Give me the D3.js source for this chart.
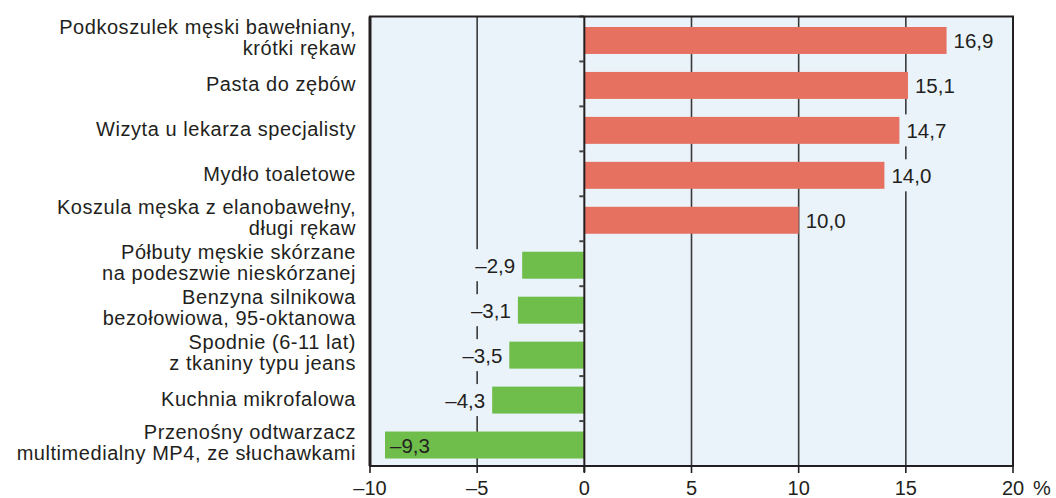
<!DOCTYPE html>
<html>
<head>
<meta charset="utf-8">
<script src="https://cdn.jsdelivr.net/npm/d3@7"></script>
<style>
  body { margin: 0; background: #fff; }
  text { font-family: "Liberation Sans", Arial, Helvetica, sans-serif; fill: #231f20; }
</style>
</head>
<body>
<svg id="chart" width="1056" height="498"></svg>
<script>
// category labels (line breaks as in the picture)
var categories = [
  "Podkoszulek męski bawełniany,\nkrótki rękaw",
  "Pasta do zębów",
  "Wizyta u lekarza specjalisty",
  "Mydło toaletowe",
  "Koszula męska z elanobawełny,\ndługi rękaw",
  "Półbuty męskie skórzane\nna podeszwie nieskórzanej",
  "Benzyna silnikowa\nbezołowiowa, 95-oktanowa",
  "Spodnie (6-11 lat)\nz tkaniny typu jeans",
  "Kuchnia mikrofalowa",
  "Przenośny odtwarzacz\nmultimedialny MP4, ze słuchawkami"
];
var values = [16.9, 15.1, 14.7, 14.0, 10.0, -2.9, -3.1, -3.5, -4.3, -9.3];
var xTicks = [-10, -5, 0, 5, 10, 15, 20];
var gridTicks = [-5, 5, 10, 15];

var bg = "#eaf3fa", red = "#e77161", green = "#6fbd4b", ink = "#231f20";

var svg = d3.select("#chart");
var plot = {left: 370, right: 1013, top: 16.5, bottom: 466};

var x = d3.scaleLinear().domain([-10, 20]).range([plot.left, plot.right]);
var y = d3.scaleBand().domain(d3.range(values.length))
  .range([plot.top + 1.5, plot.bottom + 1.5]).paddingInner(0.4).paddingOuter(0.2);
var rows = d3.scaleBand().domain(d3.range(values.length)).range([plot.top, plot.bottom]);

function fmt(v) {
  return (v < 0 ? "\u2013" : "") + d3.format(".1f")(Math.abs(v)).replace(".", ",");
}

// background
svg.append("rect").attr("x", plot.left).attr("y", plot.top)
  .attr("width", plot.right - plot.left).attr("height", plot.bottom - plot.top)
  .attr("fill", bg);

// vertical grid lines
svg.selectAll(".grid").data(gridTicks).enter().append("line")
  .attr("x1", d => x(d)).attr("x2", d => x(d))
  .attr("y1", plot.top).attr("y2", plot.bottom)
  .attr("stroke", "#3a3a3a").attr("stroke-width", 1.6);

// bars
svg.selectAll(".bar").data(values).enter().append("rect")
  .attr("x", d => x(Math.min(0, d)))
  .attr("y", (d, i) => y(i))
  .attr("width", d => Math.abs(x(d) - x(0)))
  .attr("height", y.bandwidth())
  .attr("fill", d => d >= 0 ? red : green);

// value labels, with a background patch hiding the grid lines
var labels = svg.selectAll(".val").data(values).enter().append("g");
labels.each(function(d, i) {
  var g = d3.select(this);
  var cy = y(i) + y.bandwidth() / 2;
  var inside = d < 0 && x(d) - 50 < plot.left;
  var tx, anchor;
  if (d >= 0) { tx = x(d) + 7; anchor = "start"; }
  else if (inside) { tx = x(d) + 5; anchor = "start"; }
  else { tx = x(d) - 7; anchor = "end"; }
  var t = g.append("text").attr("x", tx).attr("y", cy + 7.5)
    .attr("text-anchor", anchor).attr("font-size", 20.5).text(fmt(d));
  if (!inside) {
    var b = t.node().getBBox();
    g.insert("rect", "text").attr("x", b.x - 3).attr("y", cy - 16)
      .attr("width", b.width + 6).attr("height", 32).attr("fill", bg);
  }
});

// zero line with small ticks between rows
svg.append("line").attr("x1", x(0)).attr("x2", x(0))
  .attr("y1", plot.top).attr("y2", plot.bottom + 6)
  .attr("stroke", ink).attr("stroke-width", 2);
svg.selectAll(".rtick").data(d3.range(values.length)).enter().append("line")
  .attr("x1", x(0) - 5).attr("x2", x(0))
  .attr("y1", d => rows(d)).attr("y2", d => rows(d))
  .attr("stroke", "#444").attr("stroke-width", 2);

// frame
svg.append("rect").attr("x", plot.left).attr("y", plot.top)
  .attr("width", plot.right - plot.left).attr("height", plot.bottom - plot.top)
  .attr("fill", "none").attr("stroke", ink).attr("stroke-width", 2);
svg.append("line").attr("x1", plot.left).attr("x2", plot.left)
  .attr("y1", plot.top).attr("y2", plot.bottom)
  .attr("stroke", ink).attr("stroke-width", 3);

// bottom axis
var axis = svg.append("g");
axis.selectAll("line").data(xTicks).enter().append("line")
  .attr("x1", d => x(d)).attr("x2", d => x(d))
  .attr("y1", plot.bottom).attr("y2", plot.bottom + 7)
  .attr("stroke", ink).attr("stroke-width", 1.6);
axis.selectAll("text").data(xTicks).enter().append("text")
  .attr("x", d => x(d)).attr("y", 495)
  .attr("text-anchor", "middle").attr("font-size", 20)
  .text(d => (d < 0 ? "\u2013" : "") + Math.abs(d));
svg.append("text").attr("x", 1033).attr("y", 495).attr("font-size", 20).text("%");

// category labels
svg.selectAll(".cat").data(categories).enter().append("text")
  .attr("text-anchor", "end").attr("font-size", 20).attr("letter-spacing", "0.55px")
  .each(function(d, i) {
    var lines = d.split("\n");
    var cy = y(i) + y.bandwidth() / 2;
    var first = lines.length > 1 ? cy - 6 : cy + 6;
    d3.select(this).selectAll("tspan").data(lines).enter().append("tspan")
      .attr("x", 356).attr("y", (l, k) => first + k * 21).text(l => l);
  });
</script>
</body>
</html>
